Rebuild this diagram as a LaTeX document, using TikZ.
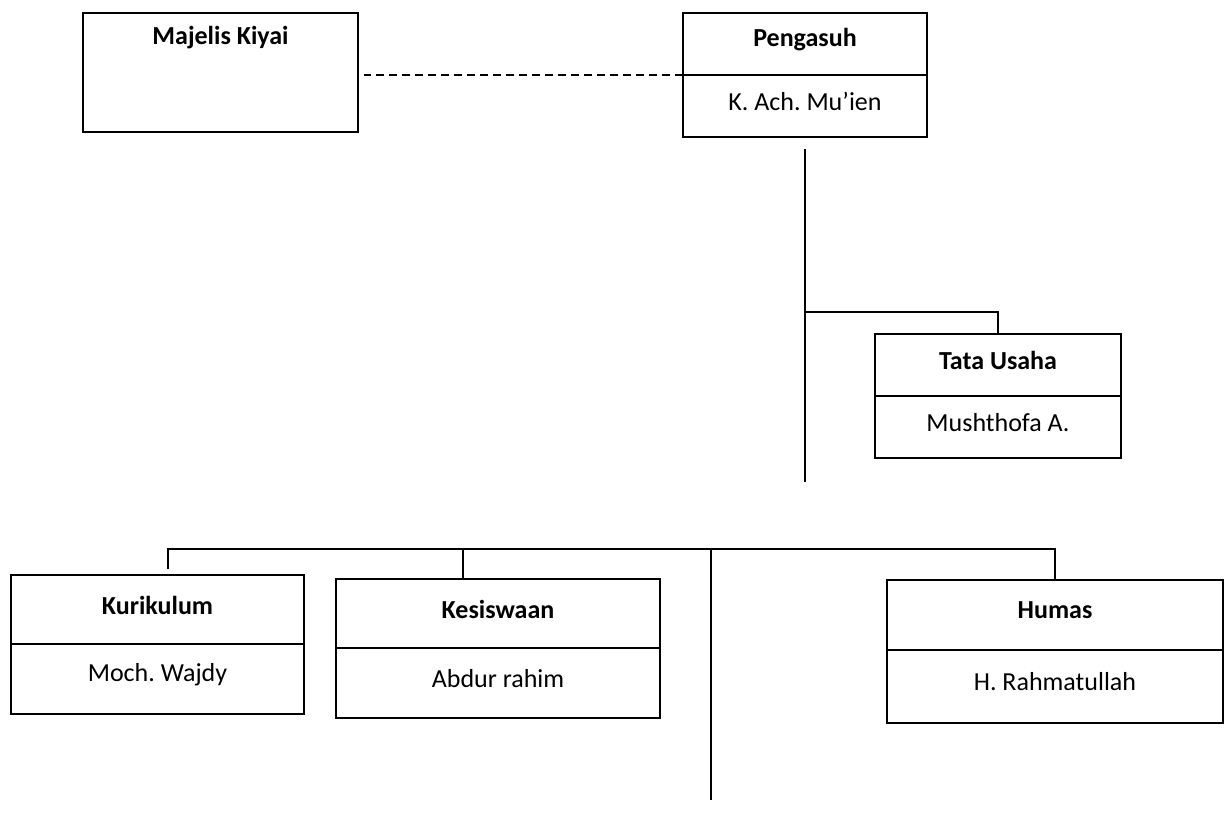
\documentclass[tikz,border=0pt]{standalone}
\usepackage{fontspec}
\setmainfont{Carlito}
\frenchspacing
\usetikzlibrary{calc}
\begin{document}
\begin{tikzpicture}[x=1pt,y=-1pt,line width=1.6pt,
  orgbox/.style={draw,rectangle,inner sep=0pt,anchor=north},
  rolename/.style={font=\fontsize{26}{30}\selectfont\bfseries,inner sep=0pt},
  person/.style={font=\fontsize{26}{30}\selectfont,inner sep=0pt}]
\useasboundingbox (0,0) rectangle (1227,823);
% majelis kiyai
\node[orgbox,minimum width=275pt,minimum height=119pt] (maj) at (220.5,12) {};
\node[rolename] (maj-j) at (220.5,38) {Majelis Kiyai};
% kotak pengurus: nama/x/atas/tengah/bawah/lebar/jabatan/orang
\foreach \nm/\cx/\ya/\yb/\yc/\w/\jab/\org in {
  peng/805/12/75/136/244/Pengasuh/K. Ach. Mu’ien,
  tata/998/333/396/457/246/Tata Usaha/Mushthofa A.,
  kur/157.5/574/644/713/293/Kurikulum/Moch. Wajdy,
  kes/498/578/648/717/324/Kesiswaan/Abdur rahim,
  hum/1055/579/650/722/336/Humas/H. Rahmatullah}{
  \node[orgbox,minimum width=\w pt,minimum height={(\yc-\ya)*1pt}] (\nm) at (\cx,\ya) {};
  \coordinate (\nm-l) at ({\cx-\w/2},\yb);
  \coordinate (\nm-r) at ({\cx+\w/2},\yb);
  \draw (\nm-l) -- (\nm-r);
  \node[rolename] (\nm-j) at (\cx,{(\ya+\yb)/2-4}) {\jab};
  \node[person] (\nm-o) at (\cx,{(\yb+\yc)/2-4}) {\org};
}
% garis
\draw[dash pattern=on 8pt off 5pt] (peng-l) -- ($(peng-l -| maj.east)+(5,0)$);
\coordinate (spineEnd) at (805,482);
\coordinate (tataJoin) at (805,312);
\draw ($(peng.south)+(0,11)$) -- (spineEnd);
\draw (tataJoin) -| (tata.north);
\coordinate (bus) at (711,549);
\coordinate (kur-in) at (168,569);
\coordinate (kes-in) at (463,578);
\coordinate (spineLow) at (711,800);
\draw (kur-in) |- (hum.north |- bus) -- (hum.north);
\draw (bus -| kes-in) -- (kes-in);
\draw (bus) -- (spineLow);
\end{tikzpicture}
\end{document}
